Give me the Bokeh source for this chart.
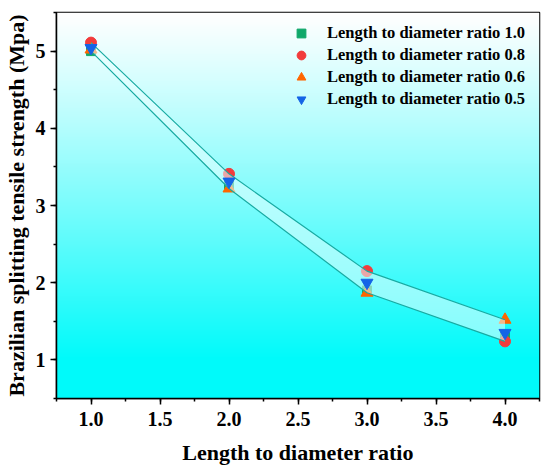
import numpy as np
from bokeh.plotting import figure
from bokeh.models import SingleIntervalTicker, NumeralTickFormatter, Legend, LegendItem, Range1d
from bokeh.embed import file_html
from bokeh.resources import INLINE

# ---- data ----
ratio_x = [1.0, 2.0, 3.0, 4.0]
s_10 = [5.00, 3.27, 1.90, 1.30]   # green squares
s_08 = [5.11, 3.41, 2.15, 1.24]   # red circles
s_06 = [5.02, 3.22, 1.87, 1.52]   # orange triangles
s_05 = [5.04, 3.31, 2.00, 1.35]   # blue inverted triangles
series_labels = ["Length to diameter ratio 1.0", "Length to diameter ratio 0.8",
                 "Length to diameter ratio 0.6", "Length to diameter ratio 0.5"]
x_title = "Length to diameter ratio"
y_title = "Brazilian splitting tensile strength (Mpa)"

X0, X1, Y0, Y1 = 0.75, 4.25, 0.5, 5.5
FONT = "Liberation Serif"

p = figure(width=542, height=467, output_backend="svg", toolbar_location=None,
           x_range=Range1d(X0, X1), y_range=Range1d(Y0, Y1),
           min_border_left=56, min_border_right=3, min_border_top=12, min_border_bottom=68)
p.background_fill_color = "white"
p.border_fill_color = "white"
p.grid.visible = False
p.outline_line_color = "black"
p.outline_line_width = 1.5

# background gradient (white top -> cyan bottom)
n = 200
t = np.linspace(0, 1, n)  # 0 = bottom, 1 = top
f = np.clip((1 - t) / 0.9, 0, 1) ** 1.1
r = (255 * (1 - f)).astype(np.uint32)
g = (255 - 5 * f).astype(np.uint32)
b = (255 - 5 * f).astype(np.uint32)
img = np.empty((n, 2), dtype=np.uint32)
view = img.view(dtype=np.uint8).reshape((n, 2, 4))
view[:, :, 0] = r[:, None]
view[:, :, 1] = g[:, None]
view[:, :, 2] = b[:, None]
view[:, :, 3] = 255
p.image_rgba(image=[img], x=X0, y=Y0, dw=X1 - X0, dh=Y1 - Y0)

allv = np.array([s_10, s_08, s_06, s_05])
upper = allv.max(axis=0)
lower = allv.min(axis=0)

r10 = p.scatter(ratio_x, s_10, marker="square", size=9, color="#10a86a")
r08 = p.scatter(ratio_x, s_08, marker="circle", size=11, color="#f23c3c")
r06 = p.scatter(ratio_x, s_06, marker="triangle", size=12, color="#ff6600")

p.varea(x=ratio_x, y1=lower, y2=upper, fill_color="#e8ffff", fill_alpha=0.55)
p.line(ratio_x, upper, line_color="#18aaa2", line_width=1.2)
p.line(ratio_x, lower, line_color="#18aaa2", line_width=1.2)

r05 = p.scatter(ratio_x, s_05, marker="inverted_triangle", size=12, color="#1464e6")

legend = Legend(items=[LegendItem(label=series_labels[0], renderers=[r10]),
                       LegendItem(label=series_labels[1], renderers=[r08]),
                       LegendItem(label=series_labels[2], renderers=[r06]),
                       LegendItem(label=series_labels[3], renderers=[r05])],
                location=(234, 288))
legend.background_fill_alpha = 0
legend.border_line_color = None
legend.label_text_font = FONT
legend.label_text_font_style = "bold"
legend.label_text_font_size = "16.5px"
legend.label_text_color = "black"
legend.glyph_width = 22
legend.glyph_height = 22
legend.label_height = 22
legend.label_standoff = 15
legend.spacing = 0
legend.padding = 5
legend.margin = 0
p.add_layout(legend)

p.xaxis.ticker = SingleIntervalTicker(interval=0.5, num_minor_ticks=2)
p.xaxis.formatter = NumeralTickFormatter(format="0.0")
p.yaxis.ticker = SingleIntervalTicker(interval=1, num_minor_ticks=2)

for ax in (p.xaxis[0], p.yaxis[0]):
    ax.axis_line_width = 1.5
    ax.major_tick_line_width = 1.5
    ax.minor_tick_line_width = 1.5
    ax.major_tick_in = 0
    ax.major_tick_out = 6
    ax.minor_tick_in = 0
    ax.minor_tick_out = 3
    ax.major_label_text_font = FONT
    ax.major_label_text_font_style = "bold"
    ax.major_label_text_font_size = "20px"
    ax.major_label_text_color = "black"
    ax.axis_label_text_font = FONT
    ax.axis_label_text_font_style = "bold"
    ax.axis_label_text_color = "black"

p.xaxis.axis_label_text_font_size = "22px"
p.yaxis.axis_label_text_font_size = "22px"
p.xaxis.axis_label = x_title
p.yaxis.axis_label = y_title
p.xaxis.major_label_standoff = 7
p.xaxis.axis_label_standoff = 11
p.yaxis.major_label_standoff = 5
p.yaxis.axis_label_standoff = 4

open("out.html", "w").write(file_html(p, INLINE))
